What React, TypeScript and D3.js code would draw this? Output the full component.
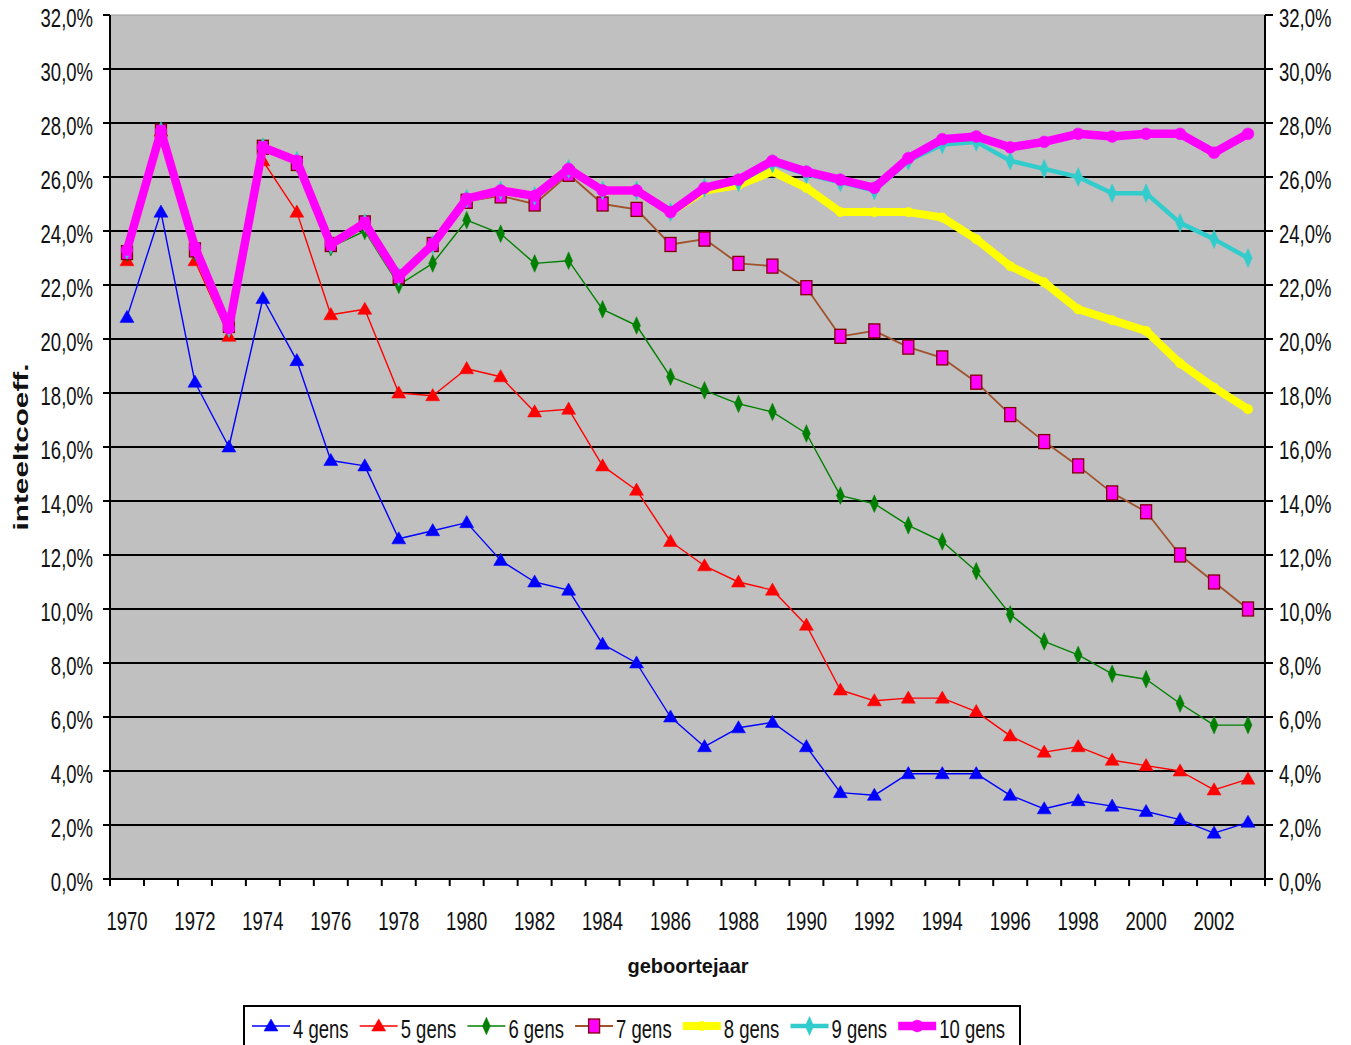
import React from "react";
import * as d3 from "d3";

const years = [1970,1971,1972,1973,1974,1975,1976,1977,1978,1979,1980,1981,1982,1983,1984,1985,1986,1987,1988,1989,1990,1991,1992,1993,1994,1995,1996,1997,1998,1999,2000,2001,2002,2003];
const yTicks = [0,2,4,6,8,10,12,14,16,18,20,22,24,26,28,30,32];
const xLabelYears = [1970,1972,1974,1976,1978,1980,1982,1984,1986,1988,1990,1992,1994,1996,1998,2000,2002];

const gens4 = [20.8,24.7,18.4,16.0,21.5,19.2,15.5,15.3,12.6,12.9,13.2,11.8,11.0,10.7,8.7,8.0,6.0,4.9,5.6,5.8,4.9,3.2,3.1,3.9,3.9,3.9,3.1,2.6,2.9,2.7,2.5,2.2,1.7,2.1];
const gens5 = [22.9,27.7,22.9,20.1,26.6,24.7,20.9,21.1,18.0,17.9,18.9,18.6,17.3,17.4,15.3,14.4,12.5,11.6,11.0,10.7,9.4,7.0,6.6,6.7,6.7,6.2,5.3,4.7,4.9,4.4,4.2,4.0,3.3,3.7];
const gens6 = [23.2,27.7,23.2,20.5,27.1,26.5,23.4,24.0,22.0,22.8,24.4,23.9,22.8,22.9,21.1,20.5,18.6,18.1,17.6,17.3,16.5,14.2,13.9,13.1,12.5,11.4,9.8,8.8,8.3,7.6,7.4,6.5,5.7,5.7];
const gens7 = [23.2,27.7,23.3,20.5,27.1,26.5,23.5,24.3,22.3,23.5,25.1,25.3,25.0,26.1,25.0,24.8,23.5,23.7,22.8,22.7,21.9,20.1,20.3,19.7,19.3,18.4,17.2,16.2,15.3,14.3,13.6,12.0,11.0,10.0];
const gens8 = [23.3,27.7,23.4,20.4,27.1,26.6,23.5,24.3,22.3,23.5,25.2,25.5,25.3,26.3,25.5,25.5,24.7,25.5,25.7,26.2,25.6,24.7,24.7,24.7,24.5,23.7,22.7,22.1,21.1,20.7,20.3,19.1,18.2,17.4];
const gens9 = [23.3,27.7,23.4,20.4,27.1,26.6,23.5,24.3,22.3,23.5,25.2,25.5,25.3,26.3,25.5,25.5,24.7,25.6,25.8,26.5,26.1,25.8,25.5,26.6,27.2,27.3,26.6,26.3,26.0,25.4,25.4,24.3,23.7,23.0];
const gens10 = [23.3,27.7,23.4,20.4,27.1,26.6,23.5,24.3,22.3,23.5,25.2,25.5,25.3,26.3,25.5,25.5,24.7,25.6,25.9,26.6,26.2,25.9,25.6,26.7,27.4,27.5,27.1,27.3,27.6,27.5,27.6,27.6,26.9,27.6];

const seriesNames = ["4 gens","5 gens","6 gens","7 gens","8 gens","9 gens","10 gens"];

type Style = { line: string; width: number; marker: string; fill: string; stroke: string; size: number };
const styles: Style[] = [
  { line: "#0000FF", width: 1.4, marker: "triangle", fill: "#0000FF", stroke: "#0000FF", size: 85 },
  { line: "#FF0000", width: 1.4, marker: "triangle", fill: "#FF0000", stroke: "#FF0000", size: 85 },
  { line: "#008000", width: 1.4, marker: "diamond", fill: "#008000", stroke: "#008000", size: 75 },
  { line: "#A0522D", width: 1.8, marker: "rect", fill: "#FF00FF", stroke: "#800000", size: 0 },
  { line: "#FFFF00", width: 8, marker: "circle", fill: "#FFFF00", stroke: "#FFFF00", size: 70 },
  { line: "#33CCCC", width: 4.5, marker: "diamond", fill: "#33CCCC", stroke: "#33CCCC", size: 85 },
  { line: "#FF00FF", width: 8.5, marker: "circle", fill: "#FF00FF", stroke: "#FF00FF", size: 110 },
];

const W = 1351, H = 1045;
const left = 110, right = 1265, top = 15, bottom = 879;

const FONT = "'Liberation Sans', Arial, sans-serif";
const SX = 0.74;

export default function App() {
  const x = d3.scaleBand<number>().domain(years).range([left, right]);
  const y = d3.scaleLinear().domain([0, 32]).range([bottom, top]);
  const cx = (yr: number) => (x(yr) as number) + x.bandwidth() / 2;
  const allSeries = [gens4, gens5, gens6, gens7, gens8, gens9, gens10];
  const line = d3.line<number>().x((_, i) => cx(years[i])).y((d) => y(d));

  const marker = (s: Style, px: number, py: number, key: string) => {
    if (s.marker === "rect") {
      return <rect key={key} x={px - 5.5} y={py - 7} width={11} height={14} fill={s.fill} stroke={s.stroke} strokeWidth={1.3} />;
    }
    const sym = s.marker === "triangle" ? d3.symbolTriangle : s.marker === "diamond" ? d3.symbolDiamond : d3.symbolCircle;
    const p = d3.symbol().type(sym).size(s.size)() as string;
    const tr = s.marker === "triangle" ? `translate(${px},${py + 1})` : s.marker === "diamond" ? `translate(${px},${py}) scale(0.85,1.1)` : `translate(${px},${py})`;
    return <path key={key} d={p} transform={tr} fill={s.fill} stroke={s.stroke} strokeWidth={0.5} />;
  };

  const boundaries = years.map((yr) => x(yr) as number).concat([right]);
  const legendStart = 252;
  const legendStep = 107.7;

  return (
    <svg width={W} height={H} style={{ position: "absolute", left: 0, top: 0, background: "#fff" }} fontFamily={FONT}>
      <rect x={left} y={top} width={right - left} height={bottom - top} fill="#C0C0C0" />
      <line x1={left} x2={right} y1={top} y2={top} stroke="#9a9a9a" strokeWidth={1} />
      {yTicks.filter((t) => t > 0 && t < 32).map((t) => (
        <line key={"g" + t} x1={left} x2={right} y1={y(t)} y2={y(t)} stroke="#000" strokeWidth={2} />
      ))}
      <line x1={left} x2={left} y1={top} y2={bottom} stroke="#000" strokeWidth={2} />
      <line x1={right} x2={right} y1={top} y2={bottom} stroke="#000" strokeWidth={2} />
      <line x1={left - 7} x2={right + 8} y1={bottom} y2={bottom} stroke="#000" strokeWidth={2} />
      {yTicks.map((t) => (
        <g key={"yt" + t}>
          <line x1={left - 7} x2={left} y1={y(t)} y2={y(t)} stroke="#000" strokeWidth={2} />
          <line x1={right} x2={right + 8} y1={y(t)} y2={y(t)} stroke="#000" strokeWidth={2} />
          <text transform={`translate(93,${y(t) + 12}) scale(${SX},1)`} textAnchor="end" fontSize={25} fill="#111">
            {t.toFixed(1).replace(".", ",") + "%"}
          </text>
          <text transform={`translate(1279,${y(t) + 12}) scale(${SX},1)`} textAnchor="start" fontSize={25} fill="#111">
            {t.toFixed(1).replace(".", ",") + "%"}
          </text>
        </g>
      ))}
      {boundaries.map((bx, i) => (
        <line key={"xt" + i} x1={bx} x2={bx} y1={bottom} y2={bottom + 7} stroke="#000" strokeWidth={2} />
      ))}
      {xLabelYears.map((yr) => (
        <text key={"xl" + yr} transform={`translate(${cx(yr)},930) scale(${SX},1)`} textAnchor="middle" fontSize={25} fill="#111">
          {yr}
        </text>
      ))}
      <text x={688} y={973} textAnchor="middle" fontSize={20} fontWeight="bold" fill="#111">geboortejaar</text>
      <text transform="translate(28,447) rotate(-90)" textAnchor="middle" fontSize={21} fontWeight="bold" fill="#111" textLength={167} lengthAdjust="spacingAndGlyphs">inteeltcoeff.</text>

      {allSeries.map((data, si) => (
        <g key={"s" + si}>
          <path d={line(data) as string} fill="none" stroke={styles[si].line} strokeWidth={styles[si].width} strokeLinejoin="round" />
          {data.map((v, i) => marker(styles[si], cx(years[i]), y(v), `m${si}-${i}`))}
        </g>
      ))}

      <rect x={244} y={1006} width={776} height={60} fill="#fff" stroke="#000" strokeWidth={2} />
      {seriesNames.map((name, i) => {
        const sx = legendStart + i * legendStep;
        const s = styles[i];
        return (
          <g key={"lg" + i}>
            <line x1={sx} x2={sx + 38} y1={1026} y2={1026} stroke={s.line} strokeWidth={s.width} />
            {marker(s, sx + 19, 1026, "lm" + i)}
            <text transform={`translate(${sx + 41},1038) scale(${SX},1)`} fontSize={25} fill="#111">{name}</text>
          </g>
        );
      })}
    </svg>
  );
}
